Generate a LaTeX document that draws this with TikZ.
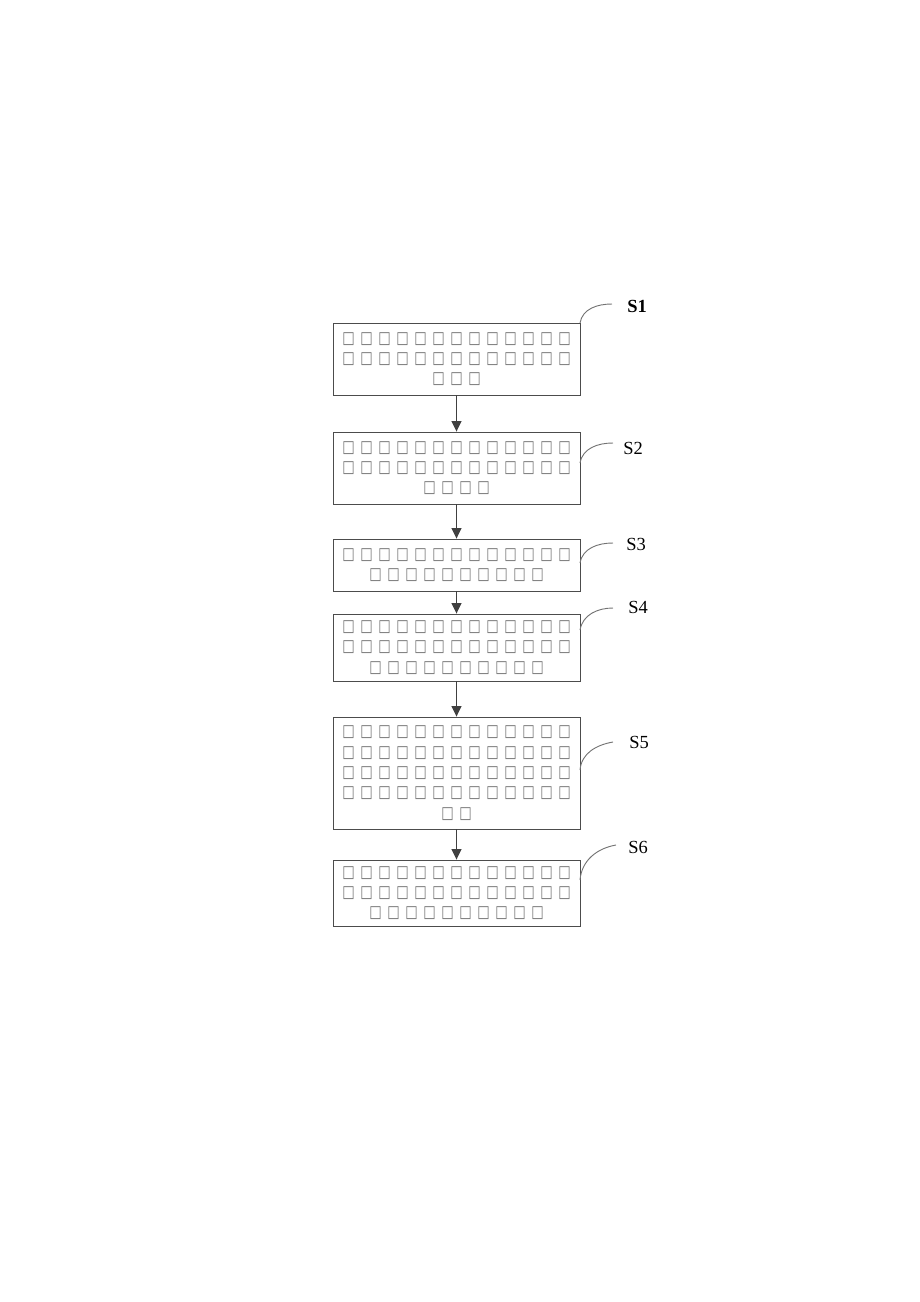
\documentclass[tikz,border=0pt]{standalone}
\usepackage{fontspec}
\usepackage{graphicx}
\setmainfont{Liberation Serif}
\newfontfamily\boxfont{DejaVu Sans}
\usetikzlibrary{arrows.meta}
\newcommand{\sqs}[1]{\foreach \k in {1,...,#1}{\makebox[4.11mm]{\textcolor{black!55}{\scalebox{0.9}[1.15]{□}}}}}
\begin{document}
\begin{tikzpicture}[x=0.2283mm, y=-0.2283mm, line width=0.6pt]
\tikzstyle{stepbox} = [draw=black!70, minimum width=56.4mm, align=center, inner sep=0pt, font=\boxfont\fontsize{9.5}{13.2}\selectfont]
\tikzstyle{lab} = [anchor=west, inner sep=0pt, font=\fontsize{12}{14}\selectfont]
\tikzstyle{arr} = [draw=black!75, -{Triangle[length=2.4mm, width=2.3mm]}]
\tikzstyle{lead} = [draw=black!55, line width=0.6pt]
\useasboundingbox (0,0) rectangle (920,1302);
\node[stepbox, minimum height=16.44mm] (s1) at (456.5,359) {\sqs{13}\\\sqs{13}\\\sqs{3}};
\node[stepbox, minimum height=16.44mm] (s2) at (456.5,468) {\sqs{13}\\\sqs{13}\\\sqs{4}};
\node[stepbox, minimum height=11.87mm] (s3) at (456.5,565) {\sqs{13}\\\sqs{10}};
\node[stepbox, minimum height=15.30mm] (s4) at (456.5,647.5) {\sqs{13}\\\sqs{13}\\\sqs{10}};
\node[stepbox, minimum height=25.57mm] (s5) at (456.5,773) {\sqs{13}\\\sqs{13}\\\sqs{13}\\\sqs{13}\\\sqs{2}};
\node[stepbox, minimum height=15.07mm] (s6) at (456.5,893) {\sqs{13}\\\sqs{13}\\\sqs{10}};
% arrows between steps
\draw[arr] (s1) -- (s2);
\draw[arr] (s2) -- (s3);
\draw[arr] (s3) -- (s4);
\draw[arr] (s4) -- (s5);
\draw[arr] (s5) -- (s6);
% leaders to step labels
\coordinate (e1) at (580,323);
\coordinate (e2) at (580,463);
\coordinate (e3) at (580,563);
\coordinate (e4) at (580,630);
\coordinate (e5) at (580,770);
\coordinate (e6) at (580,880);
\coordinate (t1) at (612,304);
\coordinate (t2) at (613,443);
\coordinate (t3) at (613,543);
\coordinate (t4) at (613,608);
\coordinate (t5) at (613,742);
\coordinate (t6) at (616,845);
\node[lab] (l1) at (627,306) {\textbf{S1}};
\node[lab] (l2) at (623,448) {S2};
\node[lab] (l3) at (626,544) {S3};
\node[lab] (l4) at (628,607) {S4};
\node[lab] (l5) at (629,742) {S5};
\node[lab] (l6) at (628,847) {S6};
\draw[lead] (e1) to[out=80, in=180] (t1);
\draw[lead] (e2) to[out=80, in=180] (t2);
\draw[lead] (e3) to[out=80, in=180] (t3);
\draw[lead] (e4) to[out=80, in=180] (t4);
\draw[lead] (e5) to[out=85, in=190] (t5);
\draw[lead] (e6) to[out=85, in=190] (t6);
\end{tikzpicture}
\end{document}
